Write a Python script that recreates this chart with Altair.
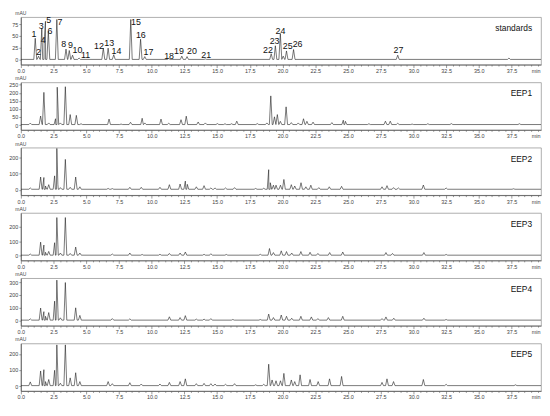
import altair as alt
import pandas as pd

# ---------------- data ----------------
XMAX = 39.75

STD_T = [1.10, 1.35, 1.60, 1.78, 1.88, 2.10, 2.75, 3.45, 3.70, 3.95, 4.45, 6.30, 6.67, 7.10,
         8.40, 9.15, 9.47, 11.30, 12.30, 12.70, 14.10, 19.13, 19.45, 19.83, 20.05, 20.30,
         20.84, 28.80, 37.30]
STD_H = [45, 7, 66, 39, 81, 60, 85, 22, 19, 9, 3, 24, 24, 10, 85, 43, 6, 2, 7, 6, 1, 12, 29,
         55, 7, 18, 21, 9, 3]

LAB_TXT = [str(i) for i in range(1, 28)]
LAB_T = [1.00, 1.34, 1.55, 1.70, 2.12, 2.22, 2.98, 3.28, 3.80, 4.32, 4.95, 5.97, 6.75, 7.30,
         8.80, 9.17, 9.75, 11.33, 12.08, 13.08, 14.17, 18.88, 19.39, 19.84, 20.40, 21.15, 28.86]
LAB_V = [54, 16, 72, 42, 83, 61, 80, 32, 30, 20, 10, 28, 34, 18, 80, 52, 16, 8, 18, 18, 10,
         20, 40, 60, 28, 32, 20]

E1_T = [0.72, 1.51, 1.76, 2.13, 2.65, 2.78, 3.02, 3.40, 3.77, 4.24, 4.60, 6.74, 7.66, 8.38,
        9.27, 9.47, 10.71, 11.30, 12.24, 12.64, 13.55, 14.10, 15.02, 15.60, 16.10, 16.50,
        18.07, 18.80, 19.10, 19.38, 19.60, 19.83, 20.27, 20.67, 21.20, 21.60, 21.86, 22.33,
        23.77, 24.64, 24.80, 26.60, 27.86, 28.23, 28.80, 29.90, 31.10, 32.90, 38.10]
E1_H = [9, 53, 200, 10, 36, 232, 10, 235, 62, 57, 5, 34, 3, 14, 39, 10, 34, 8, 30, 52, 16, 10,
        6, 5, 5, 21, 6, 10, 178, 48, 62, 20, 110, 12, 10, 36, 20, 15, 12, 27, 20, 5, 21, 21,
        8, 3, 5, 6, 5]

E2_T = [0.72, 1.51, 1.76, 1.88, 2.13, 2.58, 2.75, 2.83, 3.02, 3.40, 3.77, 4.19, 4.51, 6.67,
        6.99, 8.33, 9.20, 10.63, 11.35, 12.17, 12.57, 12.72, 13.41, 14.00, 14.52, 14.84,
        15.64, 16.33, 17.94, 18.56, 18.94, 19.06, 19.30, 19.50, 19.84, 20.10, 20.67, 20.93,
        21.41, 21.78, 22.16, 22.77, 23.57, 24.51, 27.60, 27.98, 28.48, 28.85, 30.76, 32.50,
        37.65]
E2_H = [8, 75, 72, 20, 28, 82, 250, 30, 10, 183, 12, 75, 15, 5, 4, 12, 12, 12, 28, 32, 50, 30,
        15, 22, 8, 8, 8, 10, 5, 6, 120, 40, 25, 25, 25, 60, 28, 20, 40, 15, 25, 10, 15, 18,
        15, 22, 10, 8, 26, 8, 3]

E3_T = [0.72, 1.51, 1.76, 1.88, 2.13, 2.58, 2.75, 3.02, 3.40, 3.77, 4.19, 4.51, 6.99, 8.33,
        9.27, 10.63, 11.35, 12.17, 12.57, 14.00, 14.52, 15.70, 18.30, 19.00, 19.30, 19.90,
        20.30, 20.70, 21.40, 22.10, 22.70, 23.60, 24.60, 27.90, 28.40, 30.80, 32.50]
E3_H = [8, 90, 70, 20, 26, 86, 260, 15, 260, 12, 56, 15, 8, 15, 5, 6, 12, 15, 22, 6, 10, 5, 6,
        46, 18, 30, 25, 15, 25, 20, 12, 18, 22, 18, 12, 18, 5]

E4_T = [0.72, 1.51, 1.76, 1.88, 2.13, 2.58, 2.75, 3.02, 3.40, 4.19, 4.51, 6.99, 8.33, 11.35,
        12.17, 12.57, 13.41, 14.00, 14.52, 16.20, 18.30, 18.94, 19.30, 19.90, 20.30, 20.70,
        21.40, 22.20, 22.70, 23.50, 24.60, 27.60, 27.90, 28.50, 30.80, 32.50]
E4_H = [10, 94, 66, 30, 59, 148, 312, 18, 293, 96, 37, 12, 10, 26, 20, 35, 8, 8, 12, 5, 5, 47,
        20, 40, 30, 15, 30, 25, 12, 20, 30, 12, 25, 15, 15, 5]

E5_T = [0.72, 1.51, 1.76, 1.88, 2.13, 2.58, 2.75, 3.02, 3.40, 3.77, 4.19, 4.51, 6.67, 6.99,
        8.33, 9.20, 10.63, 11.35, 12.17, 12.57, 13.41, 14.00, 14.52, 14.84, 15.64, 16.33,
        17.94, 18.56, 18.94, 19.20, 19.50, 19.84, 20.10, 20.67, 20.93, 21.34, 22.10, 22.72,
        23.59, 24.51, 27.60, 27.98, 28.48, 30.76, 32.50, 37.80]
E5_H = [23, 91, 99, 25, 38, 95, 253, 15, 253, 48, 80, 25, 25, 12, 18, 10, 10, 20, 25, 42, 12,
        14, 12, 10, 8, 12, 5, 8, 133, 35, 30, 30, 76, 35, 25, 67, 38, 25, 42, 57, 20, 42, 25,
        38, 8, 5]

PANELS = [
    # name, times, heights, baseline, y-domain, y-ticks
    ("standards", STD_T, STD_H, 0, [-11, 90], [0, 25, 50, 75]),
    ("EEP1", E1_T, E1_H, 3, [-30, 265], [0, 50, 100, 150, 200, 250]),
    ("EEP2", E2_T, E2_H, 3, [-33, 258], [0, 100, 200]),
    ("EEP3", E3_T, E3_H, 3, [-33, 295], [0, 100, 200]),
    ("EEP4", E4_T, E4_H, 3, [-40, 330], [0, 100, 200, 300]),
    ("EEP5", E5_T, E5_H, 3, [-30, 265], [0, 100, 200]),
]

# ---------------- layout / style ----------------
W = 526
H = 48
HW = 0.11  # half base width of a peak (min)
FONT = "Liberation Sans"


def trace(ts, hs, base):
    pts = [(0.0, base), (XMAX, base)]
    for t, h in zip(ts, hs):
        pts += [(t - HW, base), (t, base + h), (t + HW, base)]
    pts.sort(key=lambda p: p[0])
    return pd.DataFrame({"t": [p[0] for p in pts], "v": [p[1] for p in pts],
                         "i": list(range(len(pts)))})


x_values = [i * 0.5 for i in range(0, 80) if i * 0.5 <= XMAX]
x_axis = alt.Axis(
    values=x_values,
    labelExpr="datum.value % 2.5 == 0 ? format(datum.value, '.1f') : ''",
    tickSize={"condition": {"test": "datum.value % 2.5 == 0", "value": 3}, "value": 1.5},
    labelPadding=1, labelOverlap=False, labelFlush=False, title=None,
)
x_enc = alt.X("t:Q", scale=alt.Scale(domain=[0, XMAX], nice=False, zero=False), axis=x_axis)

panels = []
for name, ts, hs, base, ydom, yticks in PANELS:
    df = trace(ts, hs, base)
    y_enc = alt.Y("v:Q", scale=alt.Scale(domain=ydom, nice=False, zero=False),
                  axis=alt.Axis(values=yticks, tickSize=2, labelPadding=1, title=None))
    line = alt.Chart(df).mark_line(color="#1e1e1e", strokeWidth=0.6, clip=True).encode(
        x=x_enc, y=y_enc, order="i:Q",
    )
    layers = [line]
    if name == "standards":
        lab = pd.DataFrame({"t": LAB_T, "v": LAB_V, "lab": LAB_TXT})
        layers.append(alt.Chart(lab).mark_text(font=FONT, fontSize=9, color="#111",
                                               baseline="middle", align="center").encode(
            x=x_enc, y=y_enc, text="lab:N"))
    layers.append(alt.Chart(pd.DataFrame({"n": [name]})).mark_text(
        font=FONT, fontSize=8.5, color="#111", align="right", baseline="middle").encode(
        x=alt.value(W - 9), y=alt.value(11), text="n:N"))
    layers.append(alt.Chart(pd.DataFrame({"n": ["mAU"]})).mark_text(
        font=FONT, fontSize=5, color="#444", align="center", baseline="bottom").encode(
        x=alt.value(0), y=alt.value(-1), text="n:N"))
    layers.append(alt.Chart(pd.DataFrame({"n": ["min"]})).mark_text(
        font=FONT, fontSize=5.5, color="#444", align="center", baseline="middle").encode(
        x=alt.value(W - 5), y=alt.value(H + 6.5), text="n:N"))
    panels.append(alt.layer(*layers).properties(width=W, height=H))

chart = alt.vconcat(*panels, spacing=18, bounds="flush").properties(
    padding={"left": 0, "top": 0, "right": 0, "bottom": 0}
).configure_view(stroke="#9a9a9a", strokeWidth=0.8).configure_axis(
    grid=False, domainColor="#555", domainWidth=0.8, tickColor="#555", tickWidth=0.6,
    labelColor="#444", labelFontSize=5.5, labelFont=FONT,
)

chart.save("out.html", embed_options={"renderer": "svg", "actions": False})
